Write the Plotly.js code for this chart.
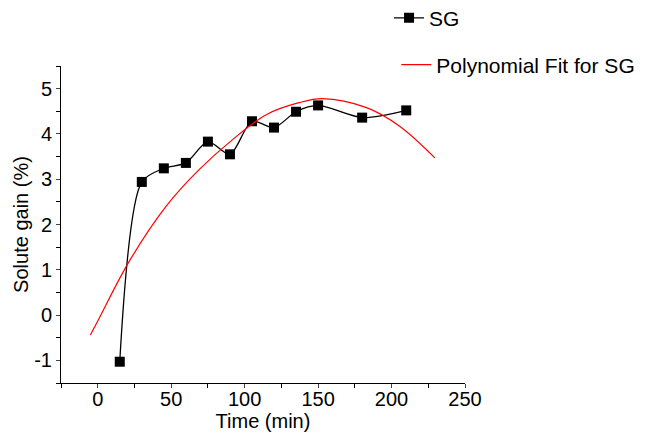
<!DOCTYPE html>
<html><head><meta charset="utf-8">
<script src="https://cdn.plot.ly/plotly-3.0.1.min.js"></script>
<style>html,body{margin:0;padding:0;background:#fff}#chart{width:657px;height:441px}</style>
</head><body><div id="chart"></div>
<script>
// Measured data (Solute gain, %)
const timeMin = [15, 30, 45, 60, 75, 90, 105, 120, 135, 150, 180, 210];
const soluteGain = [-1.03, 2.94, 3.24, 3.36, 3.83, 3.55, 4.28, 4.14, 4.49, 4.63, 4.36, 4.52];
// Polynomial fit curve
const fitTime = [-5, 1, 21.5, 46.5, 69, 92, 115, 137, 153, 183, 205.5, 229.5];
const fitGain = [-0.44, -0.07, 1.19, 2.40, 3.21, 3.88, 4.43, 4.69, 4.78, 4.58, 4.17, 3.47];
const xTicks = [0, 50, 100, 150, 200, 250];
const yTicks = [-1, 0, 1, 2, 3, 4, 5];
const yTickText = ['-1', '0', '1', '2', '3', '4', '5'];

const font = "Liberation Sans, Arial, sans-serif";
const traces = [
  {x: timeMin, y: soluteGain, name: 'SG', type: 'scatter', mode: 'lines+markers',
   line: {color: '#000', width: 1.3, shape: 'spline', smoothing: 0.8},
   marker: {symbol: 'square', size: 10, color: '#000'}, legend: 'legend'},
  {x: fitTime, y: fitGain, name: 'Polynomial Fit for SG', type: 'scatter', mode: 'lines',
   line: {color: '#ff0000', width: 1.2, shape: 'spline'}, legend: 'legend2'}
];
const layout = {
  width: 657, height: 441,
  margin: {l: 61, r: 192, t: 66, b: 58, autoexpand: false},
  paper_bgcolor: '#fff', plot_bgcolor: '#fff',
  font: {family: font, size: 20, color: '#000'},
  xaxis: {range: [-25, 250], tickvals: xTicks, ticks: 'outside', ticklen: 4, tickwidth: 1,
    ticklabelstandoff: -6,
    showline: true, linecolor: '#000', linewidth: 1, showgrid: false, zeroline: false,
    minor: {dtick: 25, tick0: 0, ticks: 'outside', ticklen: 4, tickcolor: '#000'},
    title: {text: 'Time (min)', font: {size: 20}, standoff: 0}, tickfont: {size: 20}, automargin: false},
  yaxis: {range: [-1.5, 5.5], tickvals: yTicks, ticktext: yTickText, ticks: 'outside', ticklen: 4, tickwidth: 1,
    showline: true, linecolor: '#000', linewidth: 1, showgrid: false, zeroline: false,
    minor: {dtick: 0.5, tick0: 0, ticks: 'outside', ticklen: 4, tickcolor: '#000'},
    title: {text: 'Solute gain (%)', font: {size: 20}, standoff: 0}, tickfont: {size: 20}, automargin: false},
  showlegend: true,
  legend: {x: 0.812, y: 1.151, xref: 'paper', yref: 'paper', xanchor: 'left', yanchor: 'middle',
    font: {size: 21}, bgcolor: 'rgba(0,0,0,0)', itemwidth: 30},
  legend2: {x: 0.83, y: 1.003, xref: 'paper', yref: 'paper', xanchor: 'left', yanchor: 'middle',
    font: {size: 21}, bgcolor: 'rgba(0,0,0,0)', itemwidth: 30}
};
Plotly.newPlot('chart', traces, layout, {displayModeBar: false, staticPlot: true});
</script></body></html>
